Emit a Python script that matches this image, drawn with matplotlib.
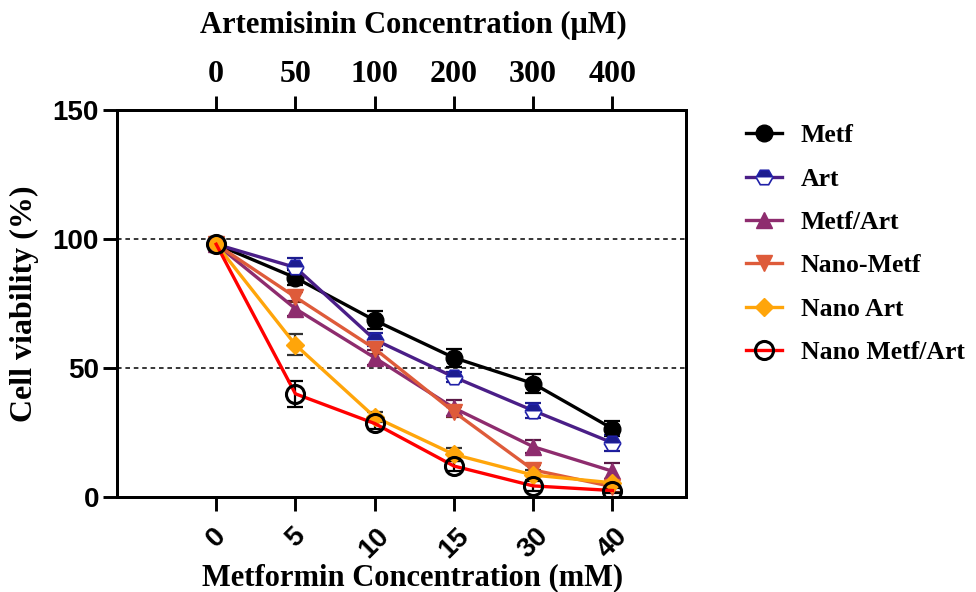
import matplotlib
matplotlib.use("Agg")
import matplotlib.pyplot as plt
import numpy as np

metformin_labels = ["0", "5", "10", "15", "30", "40"]
artemisinin_labels = ["0", "50", "100", "200", "300", "400"]
series_names = ["Metf", "Art", "Metf/Art", "Nano-Metf", "Nano Art", "Nano Metf/Art"]

metf = [98, 85, 68.5, 54, 44, 26.5]
metf_err = [1.5, 3, 3.5, 3.5, 3.5, 3]
art = [98, 89, 61, 46.5, 33.5, 21]
art_err = [1.5, 3.5, 2.5, 2, 3, 3]
metf_art = [98, 73, 54, 34.5, 19.5, 10]
metf_art_err = [1.5, 3, 3, 3, 2.5, 3]
nano_metf = [98, 77.5, 57.5, 33, 10.5, 4]
nano_metf_err = [1.5, 2, 2, 2, 2, 2]
nano_art = [98, 59, 31, 16.5, 8.5, 5.5]
nano_art_err = [1.5, 4, 2, 2.5, 2, 1.5]
nano_metf_art = [98, 40, 28.5, 12, 4.3, 2.5]
nano_metf_art_err = [1.5, 5, 2, 2, 2, 1]

SERIF = "Liberation Serif"
SANS = "Liberation Sans"
LW = 2.1

fig = plt.figure(figsize=(9.76, 5.92), dpi=100)
ax = fig.add_axes([0.12, 0.1605, 0.583, 0.6535])
x = np.arange(len(metformin_labels))

ax.axhline(100, color="black", ls=(0, (3, 2.5)), lw=1.1, zorder=1)
ax.axhline(50, color="black", ls=(0, (3, 2.5)), lw=1.1, zorder=1)

styles = [
    (metf, metf_err, dict(color="black", marker="o", mfc="black", mec="black", ms=12), "black"),
    (art, art_err, dict(color="#4A1E87", marker="H", mfc="#1C1C8F", mec="#2020A8",
                        mfcalt="white", fillstyle="top", ms=12, mew=1.2), "#1C1C8F"),
    (metf_art, metf_art_err, dict(color="#8E2C6E", marker="^", mfc="#8E2C6E", mec="#8E2C6E", ms=12), "#5a1a46"),
    (nano_metf, nano_metf_err, dict(color="#DE5B3A", marker="v", mfc="#DE5B3A", mec="#DE5B3A", ms=12), "#6a2a1a"),
    (nano_art, nano_art_err, dict(color="#FFA50A", marker="D", mfc="#FFA50A", mec="#FFA50A", ms=9), "#333333"),
    (nano_metf_art, nano_metf_art_err, dict(color="#FF0000", marker="o", mfc="none", mec="black", ms=13, mew=2.2), "black"),
]

handles = []
for (vals, errs, st, ecol), name in zip(styles, series_names):
    ax.errorbar(x, vals, yerr=errs, fmt="none", ecolor=ecol, elinewidth=1.6,
                capsize=6, capthick=1.6, zorder=2)
    h, = ax.plot(x, vals, lw=2.4, label=name, zorder=3, **st)
    handles.append(h)

ax.set_xlim(-1.25, 5.93)
ax.set_ylim(0, 150)
ax.set_yticks([0, 50, 100, 150])
ax.set_xticks(x)
ax.set_xticklabels(metformin_labels, rotation=45, ha="center", va="top",
                   fontfamily=SANS, fontweight="bold", fontsize=20)
for lab in ax.get_yticklabels():
    lab.set_fontfamily(SANS)
    lab.set_fontweight("bold")
    lab.set_fontsize(20)

for sp in ax.spines.values():
    sp.set_linewidth(LW)
ax.tick_params(axis="both", direction="out", length=10, width=LW, pad=3)
ax.tick_params(axis="x", pad=9)

ax.set_xlabel("Metformin Concentration (mM)", fontfamily=SERIF, fontweight="bold",
              fontsize=22, labelpad=0)
ax.xaxis.label.set_x(0.52)
ax.set_ylabel("Cell viability (%)", fontfamily=SERIF, fontweight="bold",
              fontsize=23, labelpad=10)

ax2 = ax.twiny()
ax2.set_xlim(ax.get_xlim())
ax2.set_xticks(x)
ax2.set_xticklabels(artemisinin_labels, fontfamily=SERIF, fontweight="bold", fontsize=23)
ax2.tick_params(axis="x", direction="out", length=10, width=LW, pad=5)
for sp in ax2.spines.values():
    sp.set_linewidth(LW)
ax2.set_xlabel("Artemisinin Concentration (\u03bcM)", fontfamily=SERIF, fontweight="bold",
               fontsize=22, labelpad=20)
ax2.xaxis.label.set_x(0.52)

leg = fig.legend(handles=handles, loc="upper left", bbox_to_anchor=(0.764, 0.79),
                 frameon=False, prop={"family": SERIF, "weight": "bold", "size": 18.5},
                 handlelength=1.4, labelspacing=0.79, handletextpad=0.75, borderaxespad=0,
                 borderpad=0)

fig.savefig("out.png", dpi=100)
